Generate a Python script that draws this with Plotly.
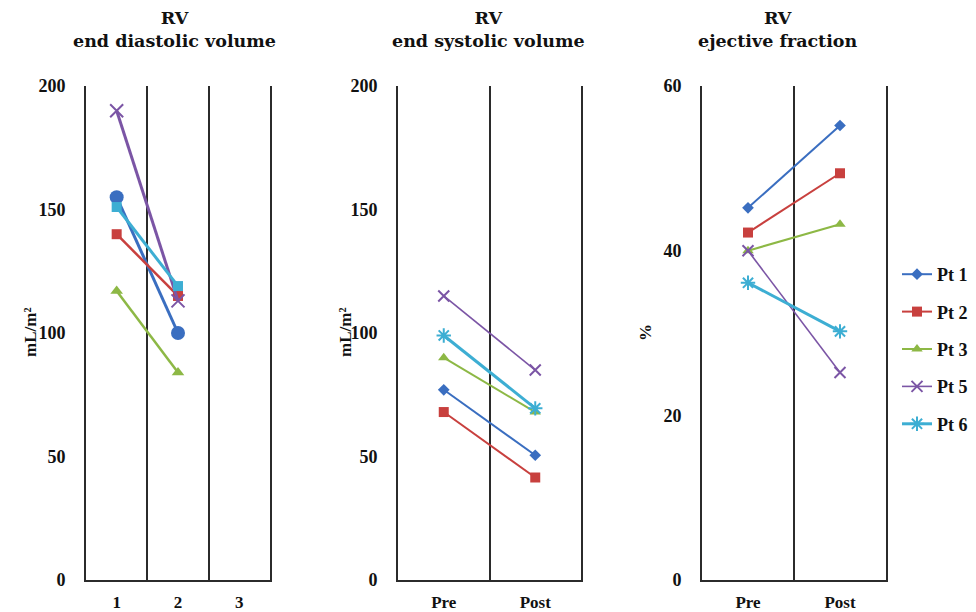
import plotly.graph_objects as go

# ---- data ----
patients = ["Pt 1", "Pt 2", "Pt 3", "Pt 5", "Pt 6"]
colors = ["#3A6EC0", "#C8403E", "#8DB845", "#7B55A5", "#3DAED3"]

edv_categories = ["1", "2", "3"]
edv_x = ["1", "2"]
edv_values = [[155, 100], [140, 115], [117, 84], [190, 113], [151, 119]]

esv_categories = ["Pre", "Post"]
esv_values = [[77, 50.5], [68, 41.5], [90, 68], [115, 85], [99, 69.5]]

ef_categories = ["Pre", "Post"]
ef_values = [[45.2, 55.2], [42.2, 49.4], [40, 43.2], [40, 25.2], [36.1, 30.2]]

panel_titles = ["RV<br>end diastolic volume", "RV<br>end systolic volume", "RV<br>ejective fraction"]
y_titles = ["mL/m²", "mL/m²", "%"]

# ---- styles ----
sym1 = ["circle", "square", "triangle-up", "x-thin-open", "square"]
size1 = [14, 10, 11, 13, 10]
width1 = [3, 2.5, 2.5, 3, 3]
sym23 = ["diamond", "square", "triangle-up", "x-thin-open", "asterisk-open"]
size23 = [9, 10, 10, 11, 12]
width23 = [2, 2, 2, 1.6, 3]

SERIF = "Liberation Serif"
AX = "#2b2b2b"

fig = go.Figure()

def add_panel(xs, vals, xaxis, yaxis, syms, sizes, widths, legend):
    for i, p in enumerate(patients):
        fig.add_trace(go.Scatter(
            x=xs, y=vals[i], name=p, mode="lines+markers",
            xaxis=xaxis, yaxis=yaxis, showlegend=legend, legendgroup=p,
            line=dict(color=colors[i], width=widths[i]),
            marker=dict(symbol=syms[i], size=sizes[i], color=colors[i],
                        line=dict(color=colors[i], width=2 if "open" in syms[i] else 0)),
        ))

add_panel(edv_x, edv_values, "x", "y", sym1, size1, width1, False)
add_panel(esv_categories, esv_values, "x2", "y2", sym23, size23, width23, False)
add_panel(ef_categories, ef_values, "x3", "y3", sym23, size23, width23, True)

# page body has an 8px default margin: figure is drawn from (8, 8)
OFF = 8
W, H = 976 - OFF, 612 - OFF

def px(x):
    return (x - OFF) / W

def py(y):
    return 1 - (y - OFF) / H

doms = [(86, 270), (398, 581), (702, 886)]
ydom = [py(580), py(86)]
yranges = [[0, 200], [0, 200], [0, 60]]
ydticks = [50, 50, 20]
cats = [edv_categories, esv_categories, ef_categories]

layout = dict(
    width=W, height=H, margin=dict(l=0, r=0, t=0, b=0, autoexpand=False),
    paper_bgcolor="white", plot_bgcolor="white",
    font=dict(family=SERIF, size=17, color="#111"),
    legend=dict(x=px(897), y=py(256), xanchor="left", yanchor="top",
                font=dict(family=SERIF, size=18, weight="bold"),
                tracegroupgap=11, itemwidth=30, bgcolor="rgba(0,0,0,0)"),
)
for k in range(3):
    sfx = "" if k == 0 else str(k + 1)
    layout["xaxis" + sfx] = dict(
        domain=[px(doms[k][0]), px(doms[k][1])], anchor="y" + sfx,
        type="category", categoryorder="array", categoryarray=cats[k],
        range=[-0.5, len(cats[k]) - 0.5], tickson="boundaries",
        showgrid=True, gridcolor=AX, gridwidth=2,
        showline=True, linecolor=AX, linewidth=2,
        ticks="outside", ticklen=8, tickcolor="rgba(0,0,0,0)",
        ticklabelstandoff=6,
        tickfont=dict(family=SERIF, size=17, weight="bold"),
        zeroline=False, fixedrange=True, automargin=False,
    )
    layout["yaxis" + sfx] = dict(
        domain=ydom, anchor="x" + sfx, range=yranges[k], dtick=ydticks[k],
        showgrid=False, zeroline=False,
        showline=True, mirror=True, linecolor=AX, linewidth=2,
        ticks="outside", ticklen=15, tickcolor="rgba(0,0,0,0)",
        tickfont=dict(family=SERIF, size=18, weight="bold"),
        fixedrange=True, automargin=False,
    )
fig.update_layout(**layout)

title_x = [174, 488, 778]
ytitle_x = [30, 345, 645]
for k in range(3):
    fig.add_annotation(
        x=px(title_x[k]), y=py(30), xref="paper", yref="paper",
        text=panel_titles[k], showarrow=False, xanchor="center", yanchor="middle",
        font=dict(family="DejaVu Serif", size=17.5, weight="bold", color="#111"),
    )
    fig.add_annotation(
        x=px(ytitle_x[k]), y=py(333), xref="paper", yref="paper",
        text=y_titles[k], showarrow=False, textangle=-90,
        xanchor="center", yanchor="middle",
        font=dict(family=SERIF, size=17, weight="bold", color="#111"),
    )

fig.write_html("out.html", config={"displayModeBar": False})
